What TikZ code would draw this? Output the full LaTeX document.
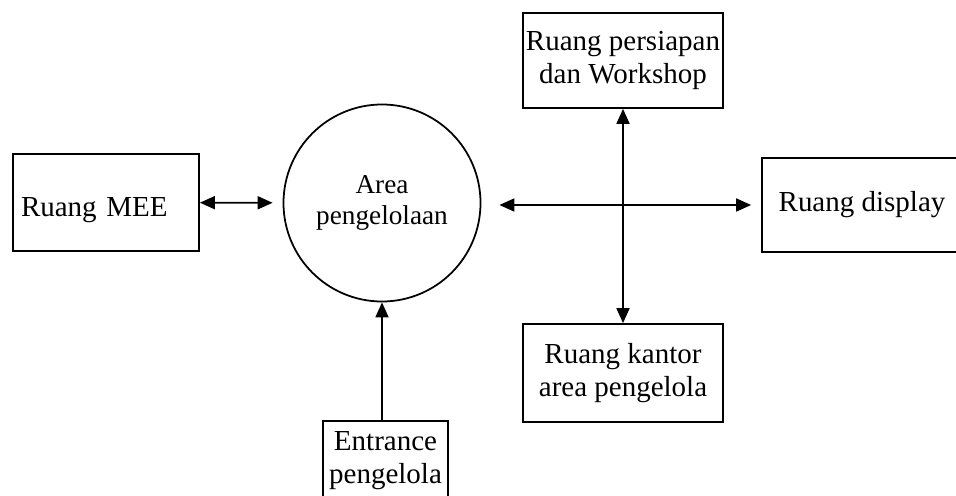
\documentclass[tikz,border=0pt]{standalone}
\usepackage{fontspec}
\setmainfont{Liberation Serif}
\usetikzlibrary{arrows.meta}

\begin{document}
\begin{tikzpicture}[>={Triangle[length=0.3cm,width=0.26cm]},line width=1pt,
 ruang/.style={draw,rectangle,minimum width=4cm,minimum height=1.9cm,inner xsep=1pt,align=center,font=\fontsize{16.5}{18.5}\selectfont}]
\useasboundingbox(0,0)rectangle(19.12,9.9);
\clip(0,0)rectangle(19.12,9.9);
\node[ruang,minimum width=3.72cm,minimum height=1.94cm,text width=3.4cm,align=left,text height=0.65cm,text depth=0.1cm](mee)at(2.12,5.85){Ruang MEE};
\node[draw,circle,minimum size=3.94cm,align=center,font=\fontsize{15.5}{17.5}\selectfont](area)at(7.64,5.84){Area\\pengelolaan};
\node[ruang](persiapan)at(12.46,8.69){Ruang persiapan\\dan Workshop};
\node[ruang,minimum height=1.96cm](kantor)at(12.46,2.44){Ruang kantor\\area pengelola};
\node[ruang,minimum height=1.88cm](display)at(17.24,5.8){Ruang display};
\node[ruang,minimum width=2.5cm,minimum height=1.6cm,anchor=north](entrance)at(7.71,1.5){Entrance\\pengelola};
\draw[<->,shorten >=0.2cm](mee)--(area);
\draw[<->,shorten <=0.36cm,shorten >=0.2cm](area.east|-display.west)--(display.west);
\draw[<->](persiapan)--(kantor);
\draw[->](area.south|-entrance.north)--(area.south);
\end{tikzpicture}
\end{document}
